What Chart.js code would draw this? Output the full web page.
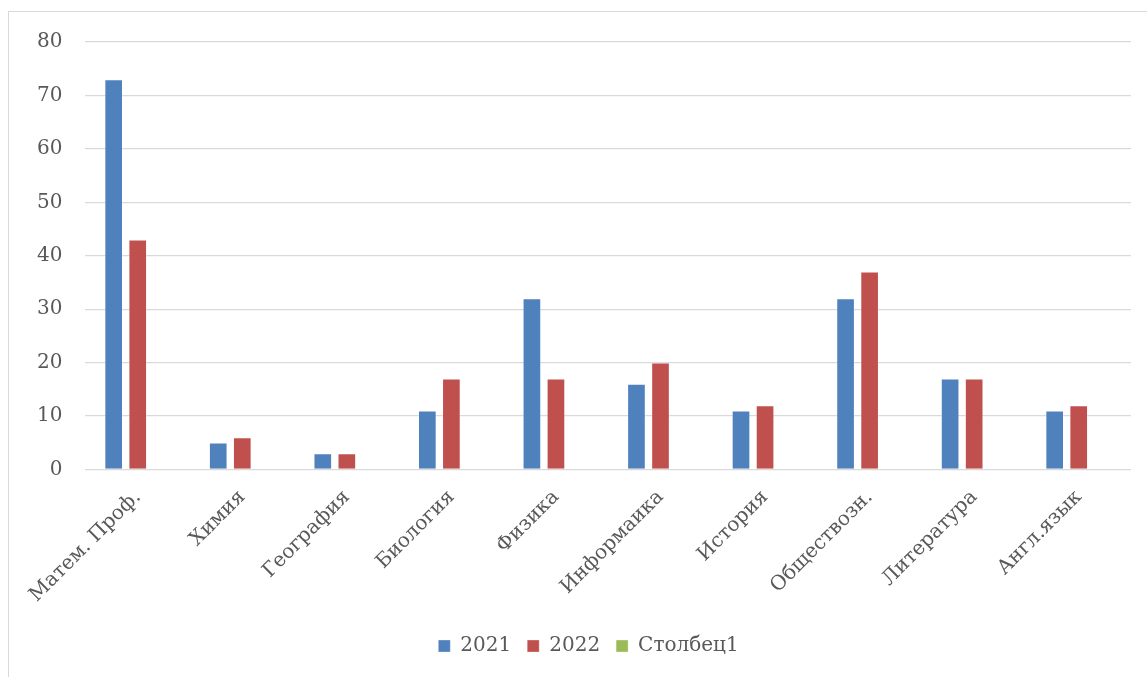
<!DOCTYPE html>
<html>
<head>
<meta charset="utf-8">
<script src="https://cdn.jsdelivr.net/npm/chart.js@4"></script>
<style>
  html, body { margin: 0; padding: 0; background: #fff; overflow: hidden; }
  #frame { position: absolute; left: 8px; top: 11px; width: 1200px; height: 700px; border: 1.5px solid #d9d9d9; }
  #wrap { position: absolute; left: 0; top: 0; width: 1147px; height: 677px; }
</style>
</head>
<body>
<div id="frame"></div>
<div id="wrap"><canvas id="c"></canvas></div>
<script>
const categories = ["Матем. Проф.", "Химия", "География", "Биология", "Физика", "Информаика", "История", "Обществозн.", "Литература", "Англ.язык"];
const values2021 = [73, 5, 3, 11, 32, 16, 11, 32, 17, 11];
const values2022 = [43, 6, 3, 17, 17, 20, 12, 37, 17, 12];
const valuesCol1 = [null, null, null, null, null, null, null, null, null, null];
const seriesNames = ["2021", "2022", "Столбец1"];
const yTicks = [0, 10, 20, 30, 40, 50, 60, 70, 80];

const FONT = "'DejaVu Serif', 'Liberation Serif', serif";
const TXT = "#595959";

const legendShift = {
  id: 'legendShift',
  afterLayout(chart) {
    if (chart.legend) { chart.legend.left += 16; chart.legend.right += 16; }
  }
};

new Chart(document.getElementById('c'), {
  type: 'bar',
  data: {
    labels: categories,
    datasets: [
      { label: seriesNames[0], data: values2021, backgroundColor: '#4F81BD', borderColor: 'rgba(255,255,255,0.4)', borderWidth: 0.8 },
      { label: seriesNames[1], data: values2022, backgroundColor: '#C0504D', borderColor: 'rgba(255,255,255,0.4)', borderWidth: 0.8 },
      { label: seriesNames[2], data: valuesCol1, backgroundColor: '#9BBB59', borderColor: 'rgba(255,255,255,0.4)', borderWidth: 0.8 }
    ]
  },
  options: {
    responsive: true,
    maintainAspectRatio: false,
    animation: false,
    datasets: { bar: { categoryPercentage: 0.69, barPercentage: 0.76 } },
    layout: { padding: { top: 42, right: 16, left: 14, bottom: 11 } },
    plugins: {
      legend: {
        position: 'bottom',
        labels: { boxWidth: 12, boxHeight: 12, color: TXT, font: { family: FONT, size: 20 }, padding: 16 }
      },
      tooltip: { enabled: false }
    },
    scales: {
      x: {
        grid: { display: false },
        border: { display: false },
        ticks: { color: TXT, font: { family: FONT, size: 20 }, minRotation: 45, maxRotation: 45, autoSkip: false, padding: 8 },
        afterFit: (axis) => { axis.height += 5; }
      },
      y: {
        min: 0, max: 80,
        afterBuildTicks: (axis) => { axis.ticks = yTicks.map(v => ({ value: v })); },
        grid: { color: '#d9d9d9', lineWidth: 1.3, drawTicks: false },
        border: { display: false },
        ticks: { color: TXT, font: { family: FONT, size: 20 }, padding: 23 }
      }
    }
  },
  plugins: [legendShift]
});
</script>
</body>
</html>
